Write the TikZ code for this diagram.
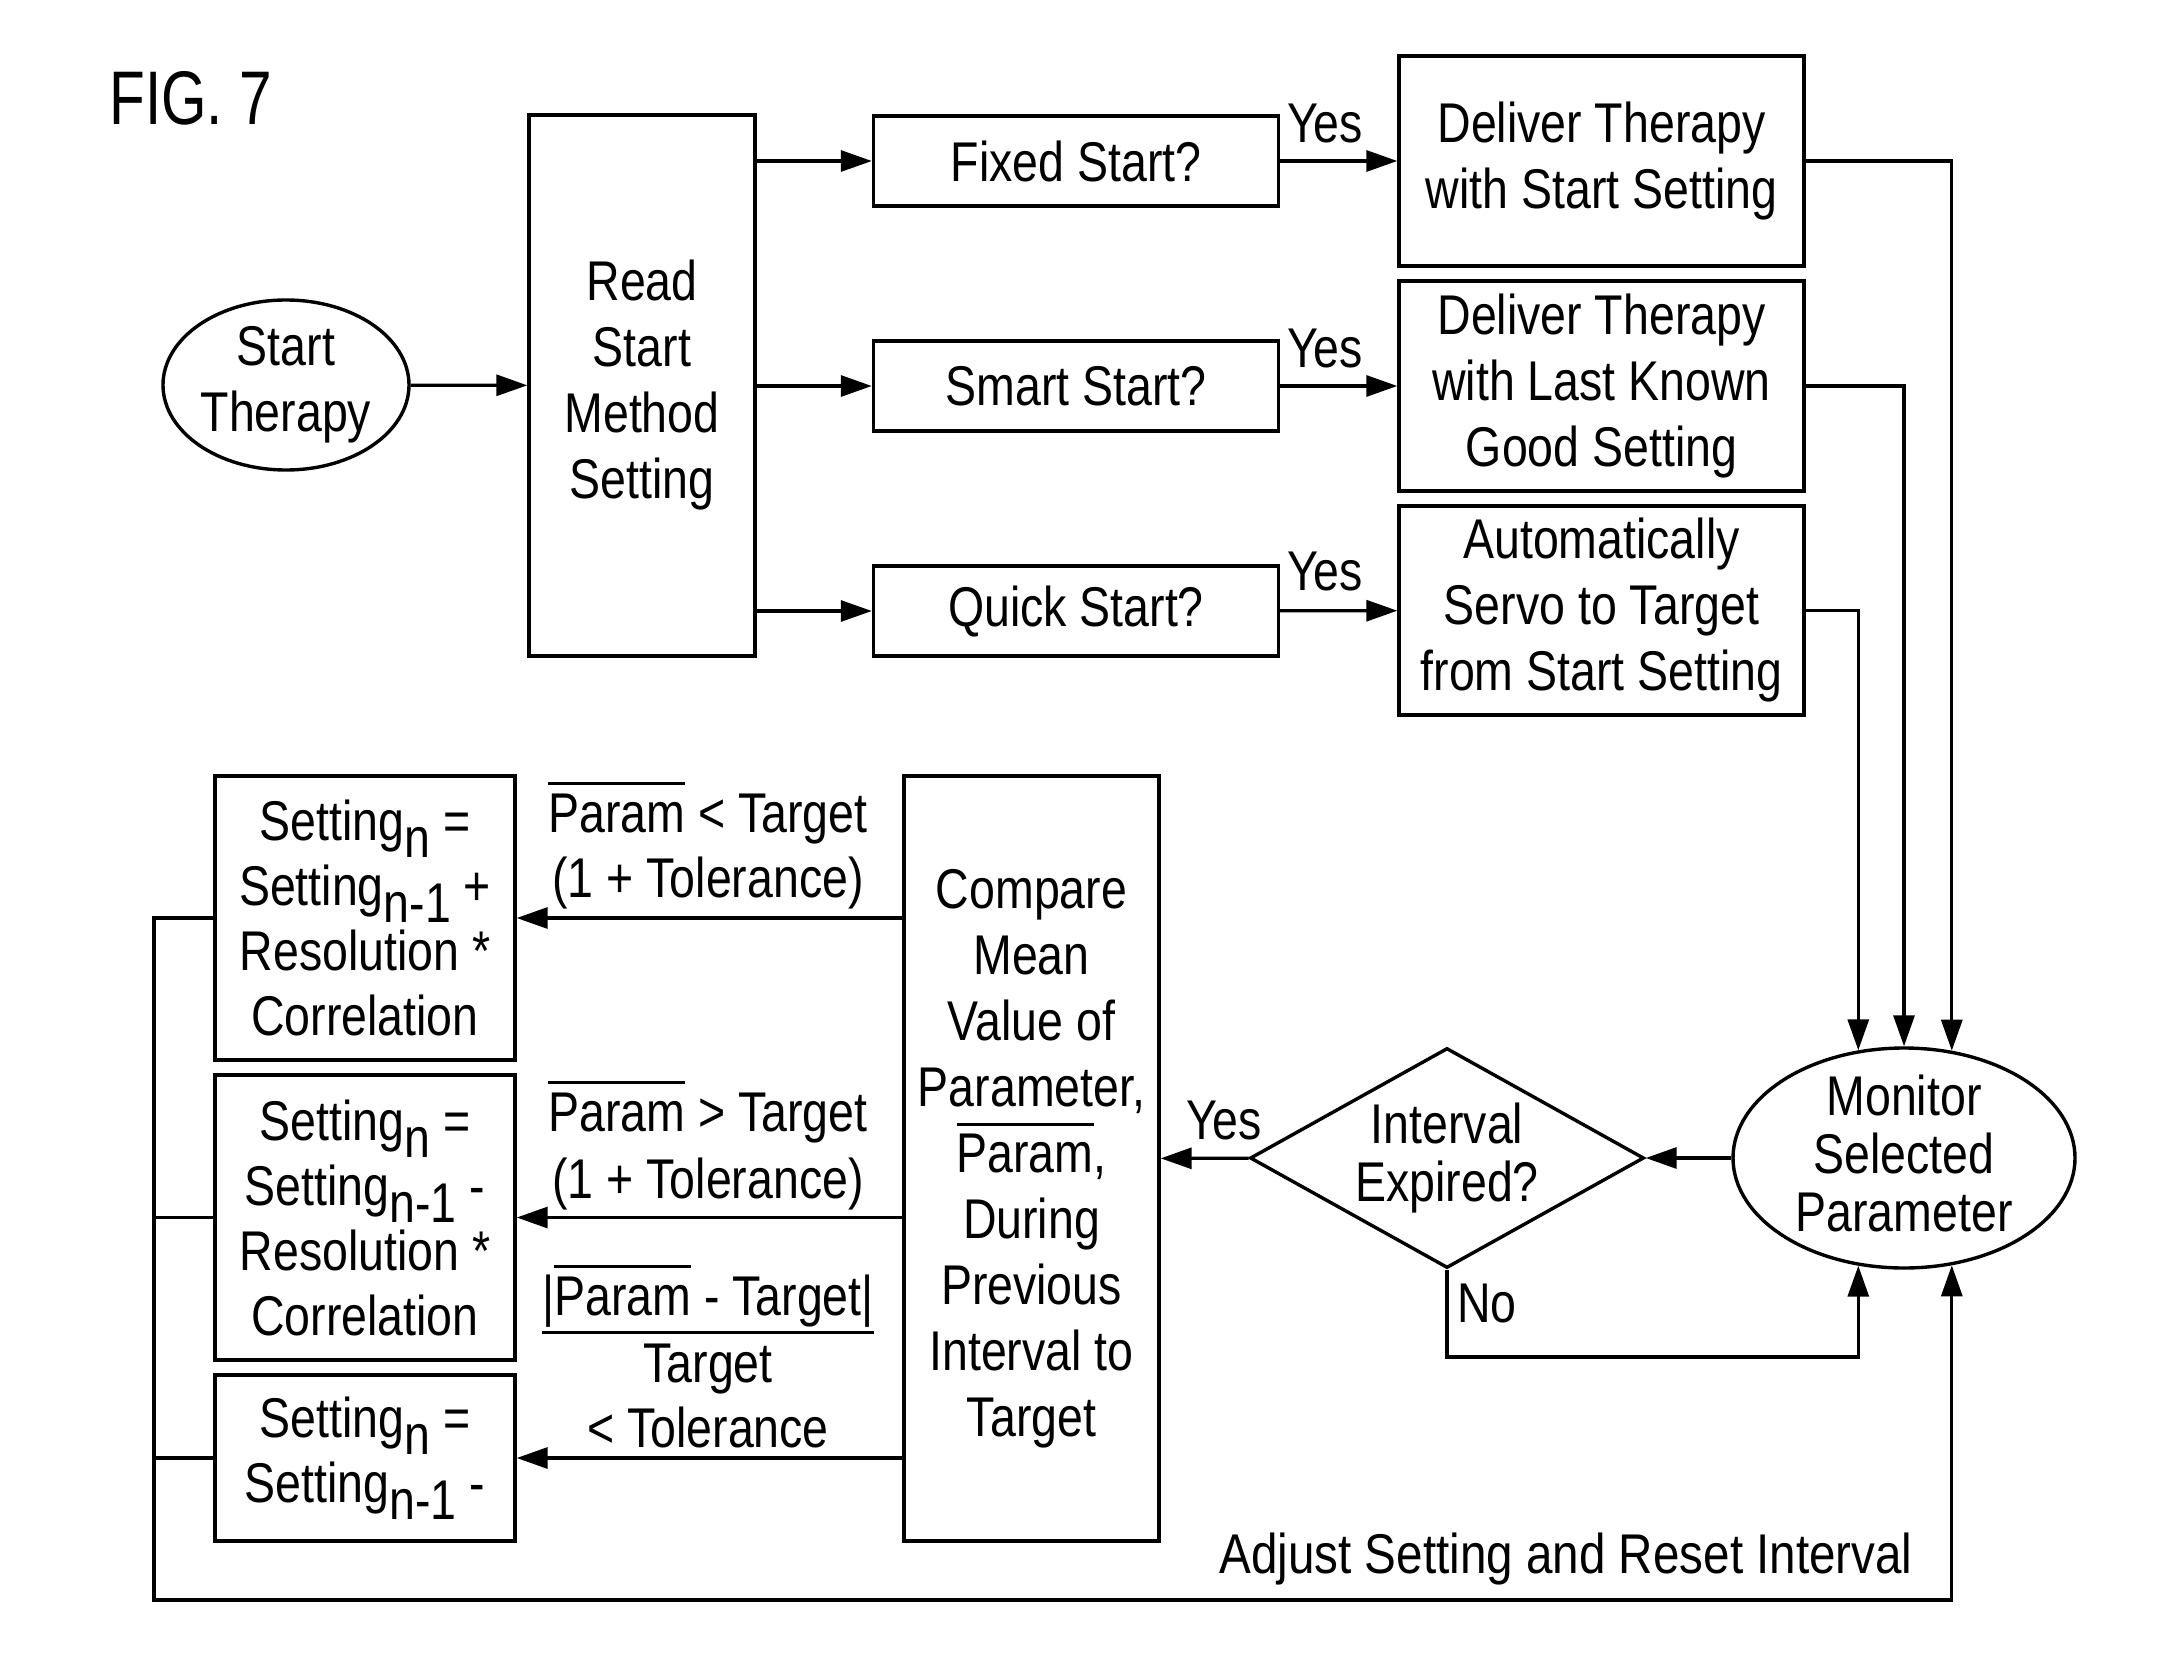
\documentclass[tikz,border=0pt]{standalone}
\usepackage{fontspec}
\setmainfont{Liberation Sans}[FakeStretch=0.83]
\newfontfamily\figfont{Liberation Sans}[FakeStretch=0.77]
\newfontfamily\widefont{Liberation Sans}[FakeStretch=0.85]
\usetikzlibrary{arrows.meta,shapes.geometric}
\newcommand\mainsz{\fontsize{28pt}{33pt}\selectfont}
\newcommand\setsz{\fontsize{28pt}{32.5pt}\selectfont}
\newcommand\tightsz{\fontsize{28pt}{29pt}\selectfont}
% mean value bar over a word
\newcommand\ovl[1]{\leavevmode\vbox{\hrule height 1.5pt\kern 4pt\hbox{#1}}}
% index set low, full size
\newcommand\idx[1]{\raisebox{-8.5pt}{#1}}

\begin{document}
\begin{tikzpicture}[x=0.5pt,y=-0.5pt,
  every node/.style={font=\mainsz, inner sep=0pt},
  ln/.style={line width=1.6pt},
  arr/.style={ln, -{Triangle[length=15.5pt,width=10.5pt]}},
  box/.style={draw, line width=1.7pt, align=center},
  oval/.style={box, ellipse}]
\useasboundingbox (0,0) rectangle (2161,1674);

\node[anchor=base west, font=\figfont\fontsize{38pt}{38pt}\selectfont] (fig) at (109,125) {FIG. 7};

% start and method selection
\node[oval, minimum width=123pt, minimum height=85pt] (start) at (286,385) {Start\\Therapy};
\node[box, minimum width=113pt, minimum height=270.5pt] (read) at (642,385.5) {Read\\Start\\Method\\Setting};

\node[box, minimum width=202.5pt, minimum height=45pt] (fixed) at (1076,161) {Fixed Start?};
\node[box, minimum width=202.5pt, minimum height=45pt] (smart) at (1076,386) {Smart Start?};
\node[box, minimum width=202.5pt, minimum height=45pt] (quick) at (1076,611) {Quick Start?};

\node[box, minimum width=202.5pt, minimum height=105pt] (delA) at (1601.5,161) {Deliver Therapy\\with Start Setting};
\node[box, minimum width=202.5pt, minimum height=105pt] (delB) at (1601.5,386) {Deliver Therapy\\with Last Known\\Good Setting};
\node[box, minimum width=202.5pt, minimum height=104.5pt] (servo) at (1601.5,610.5) {Automatically\\Servo to Target\\from Start Setting};

\node (yesA) at (1325,124) {Yes};
\node (yesB) at (1325,349) {Yes};
\node (yesC) at (1325,572) {Yes};

% monitoring loop
\node[oval, font=\tightsz, inner ysep=-4pt, minimum width=171pt, minimum height=110pt] (monitor) at (1904,1158) {Monitor\\Selected\\Parameter\rule[-5pt]{0pt}{5pt}};
\node[box, diamond, font=\tightsz, shape aspect=1.79, minimum width=197pt, minimum height=110pt] (interval) at (1447,1158) {Interval\\Expired?};
\node (yesD) at (1224,1120) {Yes};
\node (no) at (1487,1303) {No};

\node[box, minimum width=127.5pt, minimum height=382.5pt] (compare) at (1031.5,1158.5)
  {Compare\\Mean\\Value of\\Parameter,\\\ovl{Param},\\During\\Previous\\Interval to\\Target};

% setting updates
\node[box, font=\setsz, minimum width=150pt, minimum height=142pt] (setA) at (365,918)
  {Setting\idx{n} =\\Setting\idx{n-1} +\\Resolution *\\Correlation};
\node[box, font=\setsz, minimum width=150pt, minimum height=142.5pt] (setB) at (365,1217.5)
  {Setting\idx{n} =\\Setting\idx{n-1} -\\Resolution *\\Correlation};
\node[box, font=\setsz, minimum width=150pt, minimum height=83pt] (setC) at (365,1458)
  {Setting\idx{n} =\\Setting\idx{n-1} -};

% branch conditions
\node[anchor=base] (condA1) at (708,832) {\ovl{Param} < Target};
\node[anchor=base] (condA2) at (708,897) {(1 + Tolerance)};
\node[anchor=base] (condB1) at (708,1131) {\ovl{Param} > Target};
\node[anchor=base] (condB2) at (708,1198) {(1 + Tolerance)};
\node[anchor=base] (fracTop) at (708,1315) {|\ovl{Param} - Target|};
\node[anchor=base] (fracBot) at (708,1382) {Target};
\node[anchor=base] (tol) at (708,1447) {< Tolerance};
\draw[line width=1.5pt] ([yshift=-2.5pt]fracTop.south west) -- ([yshift=-2.5pt]fracTop.south east);

\node[anchor=base, font=\widefont\fontsize{28pt}{33pt}\selectfont] (adjust) at (1566,1573) {Adjust Setting and Reset Interval};

\coordinate (loopTop) at (154,918);
\coordinate (loopBot) at (154,1600);
\coordinate (noCorner) at (1447,1357);

% connectors
\draw[arr] (start) -- (read);
\draw[arr] (read.east |- fixed.west) -- (fixed.west);
\draw[arr] (read.east |- smart.west) -- (smart.west);
\draw[arr] (read.east |- quick.west) -- (quick.west);
\draw[arr] (fixed) -- (delA);
\draw[arr] (smart) -- (delB);
\draw[arr] (quick) -- (servo);
\draw[arr] (delA.east) -| (monitor.66.5);
\draw[arr] (delB.east) -| (monitor.north);
\draw[arr] (servo.east) -| (monitor.113.5);
\draw[arr] (monitor) -- (interval);
\draw[arr] (interval) -- (compare);
\draw[arr] (interval.south) -- (noCorner) -| (monitor.-113.5);
\draw[arr] (compare.west |- setA.east) -- (setA.east);
\draw[arr] (compare.west |- setB.east) -- (setB.east);
\draw[arr] (compare.west |- setC.east) -- (setC.east);
\draw[ln] (setB.west) -- (setB.west -| loopTop);
\draw[ln] (setC.west) -- (setC.west -| loopTop);
\draw[arr] (setA.west) -- (loopTop) -- (loopBot) -| (monitor.-66.5);
\end{tikzpicture}
\end{document}
